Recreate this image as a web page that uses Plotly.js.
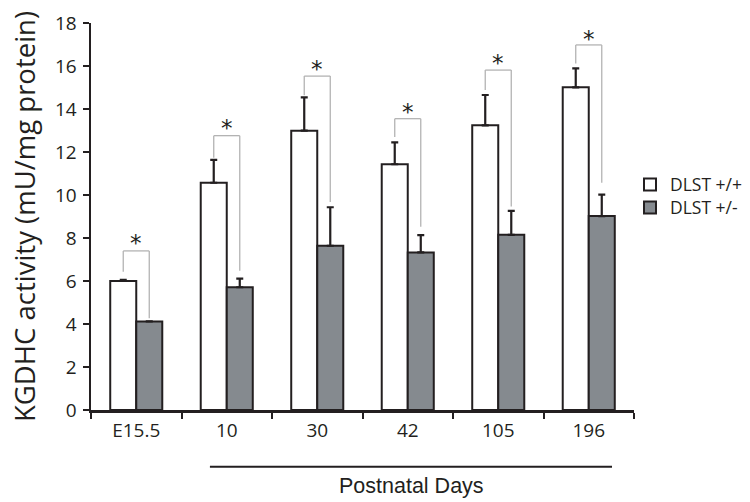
<!DOCTYPE html>
<html>
<head>
<meta charset="utf-8">
<script src="https://cdn.plot.ly/plotly-3.0.1.min.js"></script>
<style>html,body{margin:0;padding:0;background:#fff;}#chart{width:750px;height:502px;}</style>
</head>
<body>
<div id="chart"></div>
<script>
var categories = ["E15.5", "10", "30", "42", "105", "196"];
var wildType = [6.0, 10.57, 12.99, 11.43, 13.24, 15.01];
var wildTypeErr = [0.05, 1.06, 1.55, 1.02, 1.41, 0.88];
var hetero = [4.12, 5.71, 7.64, 7.33, 8.15, 9.02];
var heteroErr = [0.0, 0.4, 1.79, 0.8, 1.11, 1.0];
var bracketTop = [7.4, 12.76, 15.53, 13.55, 15.81, 16.98];
var bracketLeftEnd = [6.43, 11.73, 14.64, 12.7, 14.88, 16.12];
var bracketRightEnd = [4.27, 6.48, 9.67, 8.52, 9.46, 10.57];
var asteriskY = [8.0, 13.35, 16.1, 14.1, 16.37, 17.5];
var seriesNames = ["DLST +/+", "DLST +/-"];
var groupLabel = "Postnatal Days";

var tickFont = {family: "Open Sans, sans-serif", size: 19, color: "#231f20"};
var legendFont = {family: "Open Sans, sans-serif", size: 17.5, color: "#231f20"};
var grayFill = "#858a8f";
var bargap = 0.425;
var half = (1 - bargap) / 4;

var traces = [
  {
    type: "bar", name: seriesNames[0], x: categories, y: wildType, legend: "legend",
    marker: {color: "#ffffff", line: {color: "#231f20", width: 2}},
    error_y: {type: "data", symmetric: false, array: wildTypeErr, arrayminus: wildType.map(function(){return 0;}),
      color: "#231f20", thickness: 2.2, width: 3.5}
  },
  {
    type: "bar", name: seriesNames[1], x: categories, y: hetero, legend: "legend2",
    marker: {color: grayFill, line: {color: "#231f20", width: 2}},
    error_y: {type: "data", symmetric: false, array: heteroErr, arrayminus: hetero.map(function(){return 0;}),
      color: "#231f20", thickness: 2.2, width: 3.5}
  }
];

var shapes = [];
var annotations = [];
var bc = "#b3b3b3";
for (var i = 0; i < categories.length; i++) {
  var xl = i - half, xr = i + half;
  shapes.push({type: "line", xref: "x", yref: "y", x0: xl, x1: xl, y0: bracketLeftEnd[i], y1: bracketTop[i], line: {color: bc, width: 1.3}});
  shapes.push({type: "line", xref: "x", yref: "y", x0: xl, x1: xr, y0: bracketTop[i], y1: bracketTop[i], line: {color: bc, width: 1.3}});
  shapes.push({type: "line", xref: "x", yref: "y", x0: xr, x1: xr, y0: bracketTop[i], y1: bracketRightEnd[i], line: {color: bc, width: 1.3}});
  annotations.push({xref: "x", yref: "y", x: i, y: asteriskY[i], text: "*", showarrow: false,
    xanchor: "center", yanchor: "middle", yshift: -5,
    font: {family: "DejaVu Sans, sans-serif", size: 23, color: "#231f20"}});
}
shapes.push({type: "line", xref: "paper", yref: "paper", x0: 0.219, x1: 0.9595, y0: -0.1465, y1: -0.1465,
  line: {color: "#231f20", width: 2}});
annotations.push({xref: "paper", yref: "paper", x: 0.591, y: -0.196, text: groupLabel, showarrow: false,
  xanchor: "center", yanchor: "middle",
  font: {family: "Liberation Sans, Arial, sans-serif", size: 21.5, color: "#231f20"}});

var layout = {
  width: 750, height: 502,
  margin: {l: 91, r: 116, t: 23, b: 92, autoexpand: false},
  paper_bgcolor: "#ffffff", plot_bgcolor: "#ffffff",
  barmode: "group", bargap: bargap, bargroupgap: 0,
  showlegend: true,
  legend: {xref: "container", yref: "container", x: 0.84, xanchor: "left", y: 1 - 184.5 / 502, yanchor: "middle",
    bgcolor: "rgba(0,0,0,0)", font: legendFont},
  legend2: {xref: "container", yref: "container", x: 0.84, xanchor: "left", y: 1 - 207.7 / 502, yanchor: "middle",
    bgcolor: "rgba(0,0,0,0)", font: legendFont},
  xaxis: {
    type: "category", tickson: "boundaries", ticks: "outside", ticklen: 6, tickwidth: 2, tickcolor: "#231f20",
    showline: true, linecolor: "#231f20", linewidth: 2.5, showgrid: false, zeroline: false,
    tickfont: tickFont, ticklabelstandoff: 2, fixedrange: true, automargin: false
  },
  yaxis: {
    range: [0, 18], dtick: 2, tick0: 0, ticks: "outside", ticklen: 6, tickwidth: 2, tickcolor: "#231f20",
    showline: true, linecolor: "#231f20", linewidth: 2.5, showgrid: false, zeroline: false,
    tickfont: tickFont, ticklabelstandoff: 2, automargin: false,
    title: {text: "KGDHC activity (mU/mg protein)", standoff: 12,
      font: {family: "Open Sans, sans-serif", size: 27.5, color: "#231f20"}}
  },
  shapes: shapes,
  annotations: annotations
};

Plotly.newPlot("chart", traces, layout, {displayModeBar: false, staticPlot: true});
</script>
</body>
</html>
